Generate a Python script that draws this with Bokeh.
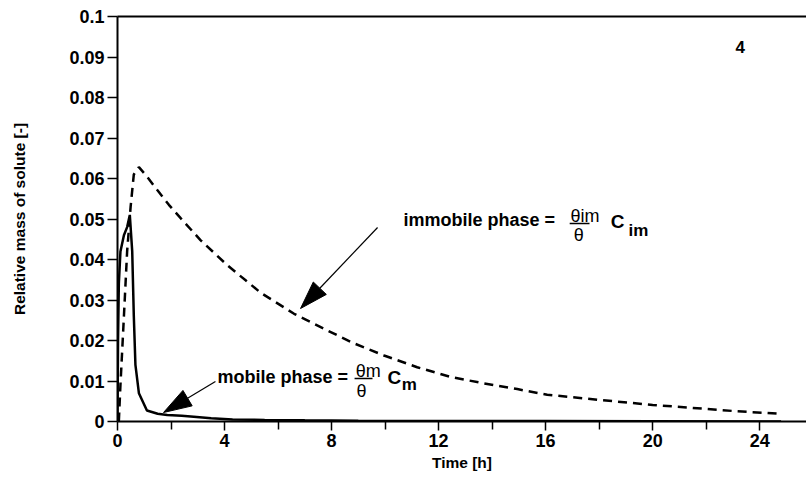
import math
from bokeh.plotting import figure
from bokeh.models import (Range1d, FixedTicker, LinearAxis, Label, Arrow)
from bokeh.embed import file_html
from bokeh.resources import INLINE

# ---- data ----
mobile_t = [0, 0.02, 0.05, 0.11, 0.24, 0.36, 0.46, 0.55, 0.61, 0.67, 0.8, 1.1, 1.5,
            1.86, 2.4, 2.85, 3.5, 4.3, 5.5, 7, 9, 12, 16, 20, 24.8]
mobile_v = [0, 0.02, 0.034, 0.042, 0.046, 0.048, 0.051, 0.042, 0.026, 0.014, 0.007,
            0.0027, 0.0019, 0.0016, 0.0014, 0.0012, 0.0008, 0.0005, 0.0004, 0.0003,
            0.0002, 0.0001, 0.0001, 0.00005, 0.0]

immobile_t = [0.05, 0.11, 0.24, 0.36, 0.49, 0.61, 0.8, 1.1, 1.48, 1.92, 2.36, 3.1, 4.1,
              5.35, 6.6, 7.84, 8.8, 9.96, 11.2, 12.45, 13.7, 14.94, 16.06, 18.05, 20.0,
              22.0, 23.0, 24.8]
immobile_v = [0, 0.009, 0.026, 0.042, 0.053, 0.061, 0.0628, 0.0605, 0.0572, 0.0535,
              0.0502, 0.0448, 0.0386, 0.0318, 0.0266, 0.0225, 0.0194, 0.0163, 0.0134,
              0.0110, 0.0094, 0.0080, 0.0066, 0.0053, 0.0041, 0.0031, 0.0026, 0.0019]

x_ticks = [0, 4, 8, 12, 16, 20, 24]
x_minor = [2, 6, 10, 14, 18, 22]
y_ticks = [0, 0.01, 0.02, 0.03, 0.04, 0.05, 0.06, 0.07, 0.08, 0.09, 0.1]
y_tick_labels = ["0", "0.01", "0.02", "0.03", "0.04", "0.05", "0.06", "0.07",
                 "0.08", "0.09", "0.1"]

FONT = "Liberation Sans"
X_MAX, Y_MAX = 25.75, 0.1
W, H = 806, 481
BL, BR, BT, BB = 117, 0, 16, 60

p = figure(width=W, height=H, output_backend="svg", toolbar_location=None,
           x_range=Range1d(0, X_MAX), y_range=Range1d(0, Y_MAX),
           min_border_left=BL, min_border_right=BR, min_border_top=BT,
           min_border_bottom=BB)
p.background_fill_color = "white"
p.border_fill_color = "white"
p.outline_line_color = None
p.grid.visible = False

xa = p.xaxis[0]
xa.ticker = FixedTicker(ticks=x_ticks, minor_ticks=x_minor)
xa.axis_label = "Time [h]"
ya = p.yaxis[0]
ya.ticker = FixedTicker(ticks=y_ticks)
ya.major_label_overrides = {t: s for t, s in zip(y_ticks, y_tick_labels)}
ya.axis_label = "Relative mass of solute [-]"

for ax in (xa, ya):
    ax.axis_line_color = "black"
    ax.axis_line_width = 2
    ax.major_tick_line_color = "black"
    ax.major_tick_line_width = 1.5
    ax.major_tick_in = 0
    ax.major_label_text_font = FONT
    ax.major_label_text_font_size = "18px"
    ax.major_label_text_font_style = "bold"
    ax.major_label_text_color = "black"
    ax.axis_label_text_font = FONT
    ax.axis_label_text_font_size = "15.5px"
    ax.axis_label_text_font_style = "bold"
    ax.axis_label_text_color = "black"

xa.major_tick_out = 9
xa.minor_tick_out = 8
xa.minor_tick_in = 0
xa.minor_tick_line_color = "black"
xa.minor_tick_line_width = 1.5
xa.major_label_standoff = 3
xa.axis_label_standoff = 4

ya.major_tick_out = 10
ya.minor_tick_line_color = None
ya.major_label_standoff = 3
ya.axis_label_standoff = 38

top = LinearAxis(ticker=FixedTicker(ticks=[]), axis_line_width=2,
                 axis_line_color="black", major_tick_line_color=None,
                 minor_tick_line_color=None, major_label_text_font_size="0px")
p.add_layout(top, "above")

# curves
p.line(immobile_t, immobile_v, line_color="black", line_width=2.5, line_dash="9 6")
p.line(mobile_t, mobile_v, line_color="black", line_width=2.5)

# annotations
def lab(x, y, text, size="18px", style="bold"):
    p.add_layout(Label(x=x, y=y, text=text, text_font=FONT, text_font_size=size,
                       text_font_style=style, text_color="black",
                       text_baseline="alphabetic", text_align="left"))

def bar(x0, x1, y):
    p.add_layout(Arrow(x_start=x0, y_start=y, x_end=x1, y_end=y, end=None,
                       line_color="black", line_width=1.5))

# pixel scale of the frame (for shaping the arrow heads)
sx = (W - BL - BR) / X_MAX
sy = (H - BT - BB) / Y_MAX

def arrow(x0, y0, x1, y1, length=28, width=18):
    dx, dy = (x1 - x0) * sx, (y1 - y0) * sy
    d = math.hypot(dx, dy)
    ux, uy = dx / d, dy / d
    bx, by = x1 - length * ux / sx, y1 - length * uy / sy
    nx, ny = -uy * width / 2, ux * width / 2
    p.segment(x0=[x0], y0=[y0], x1=[bx], y1=[by], line_color="black", line_width=1.2)
    p.patch([x1, bx + nx / sx, bx - nx / sx], [y1, by + ny / sy, by - ny / sy],
            fill_color="black", line_color="black", line_width=1)

# immobile phase label
lab(10.69, 0.04963, "immobile phase =")
lab(16.93, 0.05086, "θim", size="18px", style="normal")
bar(16.90, 17.64, 0.04889)
lab(17.05, 0.04593, "θ", size="18px", style="normal")
lab(18.43, 0.04938, "C", size="19px")
lab(19.10, 0.04716, "im", size="17px")

# mobile phase label
lab(3.74, 0.01111, "mobile phase =")
lab(8.90, 0.01259, "θm", size="18px", style="normal")
bar(8.86, 9.53, 0.01062)
lab(8.93, 0.00765, "θ", size="18px", style="normal")
lab(10.09, 0.01086, "C", size="19px")
lab(10.62, 0.00914, "m", size="17px")

# panel number
lab(23.1, 0.09235, "4", size="17px")

# arrows
arrow(9.72, 0.0479, 6.84, 0.0279)
arrow(3.66, 0.00988, 1.72, 0.00222)

open("out.html", "w").write(file_html(p, INLINE))
